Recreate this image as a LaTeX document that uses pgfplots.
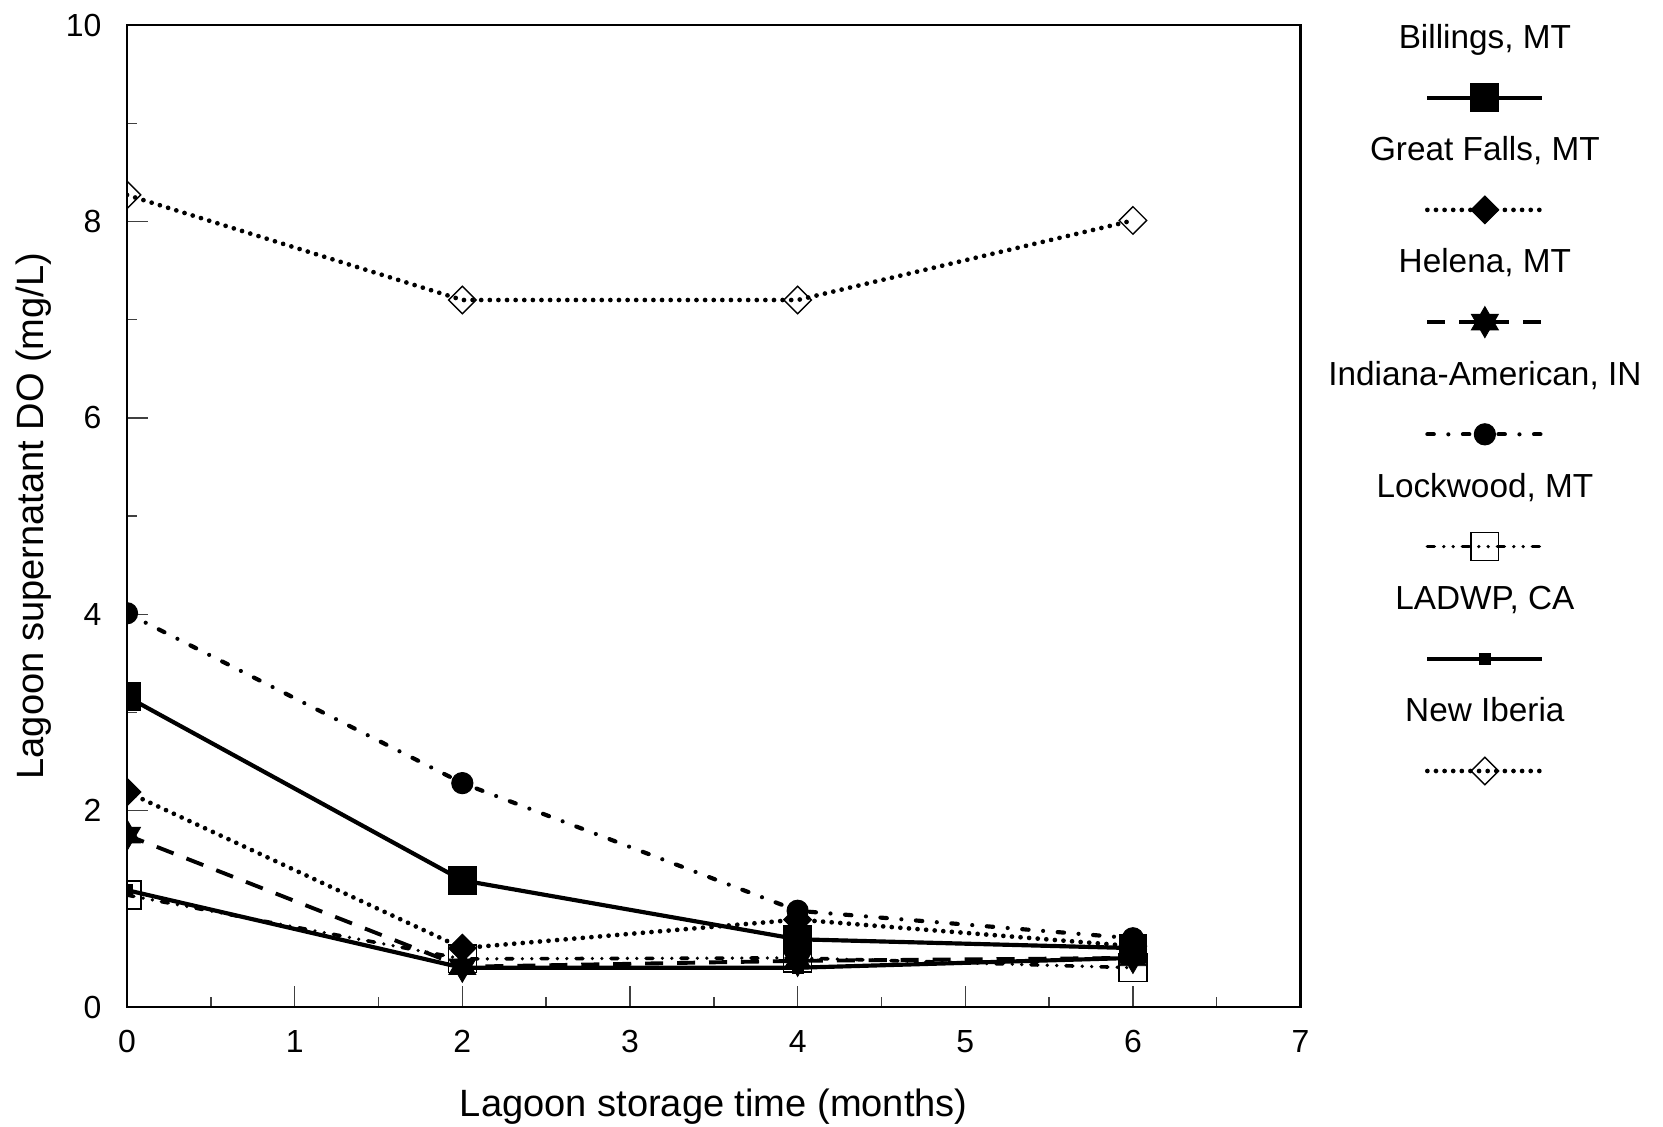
\documentclass[border=0pt]{standalone}
\usepackage{fontspec}
\setmainfont{Liberation Sans}
\usepackage{pgfplots}
\pgfplotsset{compat=1.18}

\pgfdeclareplotmark{sixstar}{%
  \pgfpathmoveto{\pgfqpointpolar{90}{\pgfplotmarksize}}%
  \pgfpathlineto{\pgfqpointpolar{210}{\pgfplotmarksize}}%
  \pgfpathlineto{\pgfqpointpolar{330}{\pgfplotmarksize}}%
  \pgfpathclose
  \pgfpathmoveto{\pgfqpointpolar{270}{\pgfplotmarksize}}%
  \pgfpathlineto{\pgfqpointpolar{30}{\pgfplotmarksize}}%
  \pgfpathlineto{\pgfqpointpolar{150}{\pgfplotmarksize}}%
  \pgfpathclose
  \pgfusepathqfillstroke
}

\pgfplotsset{
  lgd/.style={legend image code/.code={%
    \path[draw=none, fill=none] (-60pt,-13.4pt) rectangle (60pt,27pt);
    \draw[mark repeat=2,mark phase=2] plot coordinates {(-20.7pt,0pt) (0pt,0pt) (20.7pt,0pt)};
    \node[font=\fontsize{12}{14}\selectfont, text=black, anchor=base, inner sep=0pt, draw=none, fill=none] at (0pt,17.7pt) {#1};
  }},
}

\begin{document}
\begin{tikzpicture}
\begin{axis}[
  scale only axis, width=422.5pt, height=353.5pt,
  xmin=0, xmax=7, ymin=0, ymax=10,
  xtick={0,1,...,7}, ytick={0,2,...,10},
  minor x tick num=1, minor y tick num=1,
  tick pos=left, tick align=inside,
  major tick length=7.5pt, minor tick length=3.6pt,
  tick style={black!75, line width=0.5pt},
  axis line style={line width=1pt},
  ticklabel style={font=\fontsize{11.5}{13}\selectfont},
  /pgf/number format/assume math mode=true,
  xticklabel style={anchor=north, inner sep=0pt, yshift=-8.3pt},
  yticklabel style={anchor=east, inner sep=0pt, xshift=-9pt},
  xlabel={Lagoon storage time (months)},
  ylabel={Lagoon supernatant DO (mg/L)},
  label style={font=\fontsize{13.7}{16}\selectfont},
  xlabel style={at={(axis description cs:0.5,-0.111)}, anchor=base, inner sep=0pt},
  ylabel style={at={(axis description cs:-0.0715,0.5)}, anchor=base, inner sep=0pt},
  clip marker paths=true,
  legend style={at={(1.015,1.00244)}, anchor=north west, draw=none, fill=none,
    inner sep=0pt, outer sep=0pt, row sep=0pt, nodes={inner sep=0pt}},
]
% Billings, MT
\addplot[black, line width=1.5pt, mark=square*, mark size=5pt,
  mark options={solid, line width=0.4pt}, lgd={Billings, MT}]
  coordinates {(0,3.16) (2,1.29) (4,0.69) (6,0.60)};
\addlegendentry{}
% Great Falls, MT
\addplot[black, line width=1.7pt, line cap=round, dash pattern=on 0pt off 3.1pt,
  mark=square*, mark size=3.5pt, mark options={solid, rotate=45, line width=0.4pt},
  lgd={Great Falls, MT}]
  coordinates {(0,2.19) (2,0.60) (4,0.89) (6,0.62)};
\addlegendentry{}
% Helena, MT
\addplot[black, line width=1.4pt, dash pattern=on 6.5pt off 5pt,
  mark=sixstar, mark size=5.6pt, mark options={solid, line width=0.3pt},
  lgd={Helena, MT}]
  coordinates {(0,1.75) (2,0.41) (4,0.47) (6,0.50)};
\addlegendentry{}
% Indiana-American, IN
\addplot[black, line width=1.5pt, line cap=round,
  dash pattern=on 2.3pt off 5.25pt on 0pt off 5.25pt,
  mark=*, mark size=3.8pt, mark options={solid, line width=0.4pt},
  lgd={Indiana-American, IN}]
  coordinates {(0,4.01) (2,2.28) (4,0.98) (6,0.70)};
\addlegendentry{}
% Lockwood, MT
\addplot[black, line width=1.3pt, line cap=round,
  dash pattern=on 2.5pt off 3.4pt on 0pt off 3.4pt on 0pt off 3.3pt,
  mark=square, mark size=5pt, mark options={solid, line width=0.5pt},
  lgd={Lockwood, MT}]
  coordinates {(0,1.14) (2,0.49) (4,0.50) (6,0.40)};
\addlegendentry{}
% LADWP, CA
\addplot[black, line width=1.5pt, mark=square*, mark size=2pt,
  mark options={solid, line width=0.4pt}, lgd={LADWP, CA}]
  coordinates {(0,1.19) (2,0.40) (4,0.40) (6,0.50)};
\addlegendentry{}
% New Iberia
\addplot[black, line width=1.7pt, line cap=round, dash pattern=on 0pt off 3.1pt,
  mark=square, mark size=3.5pt, mark options={solid, rotate=45, line width=0.5pt},
  lgd={New Iberia}]
  coordinates {(0,8.27) (2,7.20) (4,7.20) (6,8.01)};
\addlegendentry{}
\end{axis}
\pgfresetboundingbox
\path (-45.72pt,-42.84pt) rectangle (552.96pt,362.52pt);
\end{tikzpicture}
\end{document}
